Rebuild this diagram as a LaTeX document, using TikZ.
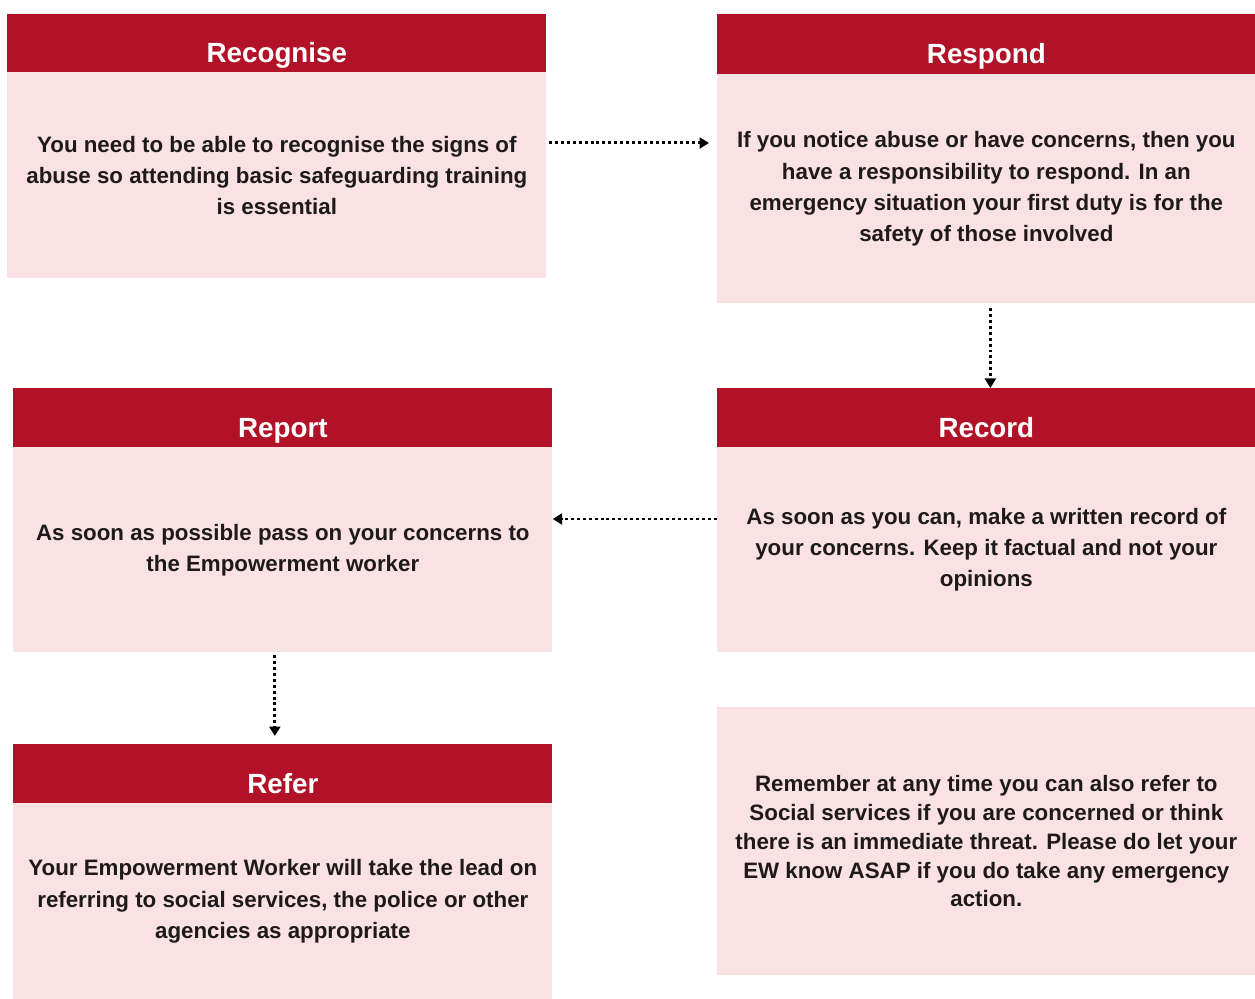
\documentclass[tikz,border=0pt]{standalone}
\usepackage{fontspec}
\setmainfont{Liberation Sans}
\usetikzlibrary{arrows.meta,calc}
\definecolor{headred}{RGB}{178,18,40}
\definecolor{bodypink}{RGB}{249,225,228}
\definecolor{ink}{RGB}{30,26,28}

\tikzset{
  size/.style 2 args={minimum width=#1*0.02cm, minimum height=#2*0.02cm},
  head/.style={fill=headred, text=white, anchor=north west, inner sep=0pt,
    text height=0.78cm, text depth=0pt,
    font=\bfseries\fontsize{15.8}{18}\selectfont},
  body/.style={fill=bodypink, text=ink, anchor=north west, inner sep=0pt, align=center,
    font=\bfseries\fontsize{12.7}{17.7}\selectfont},
  flow/.style={line width=1.7pt, dash pattern=on 1.7pt off 1.7pt,
    -{Triangle[length=0.19cm,width=0.22cm]}}
}

\begin{document}
\begin{tikzpicture}[x=0.02cm, y=-0.02cm]
  \useasboundingbox (0,0) rectangle (1255,999);

  % top row
  \node[head, size={539}{58}] (recogHead) at (7,14) {Recognise};
  \node[body, size={539}{206}] (recog) at (7,72)
    {You need to be able to recognise the signs of\\
     abuse so attending basic safeguarding training\\
     is essential};
  \node[head, size={538}{60}] (respondHead) at (717,14) {Respond};
  \node[body, size={538}{229}] (respond) at (717,74)
    {If you notice abuse or have concerns, then you\\
     have a responsibility to respond. In an\\
     emergency situation your first duty is for the\\
     safety of those involved};

  % middle row
  \node[head, size={539}{59}] (reportHead) at (13,388) {Report};
  \node[body, size={539}{205}] (report) at (13,447)
    {As soon as possible pass on your concerns to\\
     the Empowerment worker};
  \node[head, size={538}{59}] (recordHead) at (717,388) {Record};
  \node[body, size={538}{205}] (record) at (717,447)
    {As soon as you can, make a written record of\\
     your concerns. Keep it factual and not your\\
     opinions};

  % bottom row
  \node[head, size={539}{59}] (referHead) at (13,744) {Refer};
  \node[body, size={539}{196}] (refer) at (13,803)
    {Your Empowerment Worker will take the lead on\\
     referring to social services, the police or other\\
     agencies as appropriate};
  \node[body, size={538}{268}, font=\bfseries\fontsize{12.7}{16.4}\selectfont]
    (note) at (717,707)
    {Remember at any time you can also refer to\\
     Social services if you are concerned or think\\
     there is an immediate threat. Please do let your\\
     EW know ASAP if you do take any emergency\\
     action.};

  % dotted arrows between the steps
  \coordinate (a1) at ($(recog.north east)+(2,71)$);
  \draw[flow, shorten >=0.16cm] (a1) -- (a1 -| respond.west);
  \coordinate (a2) at ($(respond.south)+(4,4)$);
  \draw[flow] (a2) -- (a2 |- recordHead.north);
  \coordinate (a3) at ($(record.north west)+(0,72)$);
  \draw[flow] (a3) -- (a3 -| report.east);
  \coordinate (a4) at ($(report.south)+(-8,2)$);
  \draw[flow, shorten >=0.16cm] (a4) -- (a4 |- referHead.north);
\end{tikzpicture}
\end{document}
